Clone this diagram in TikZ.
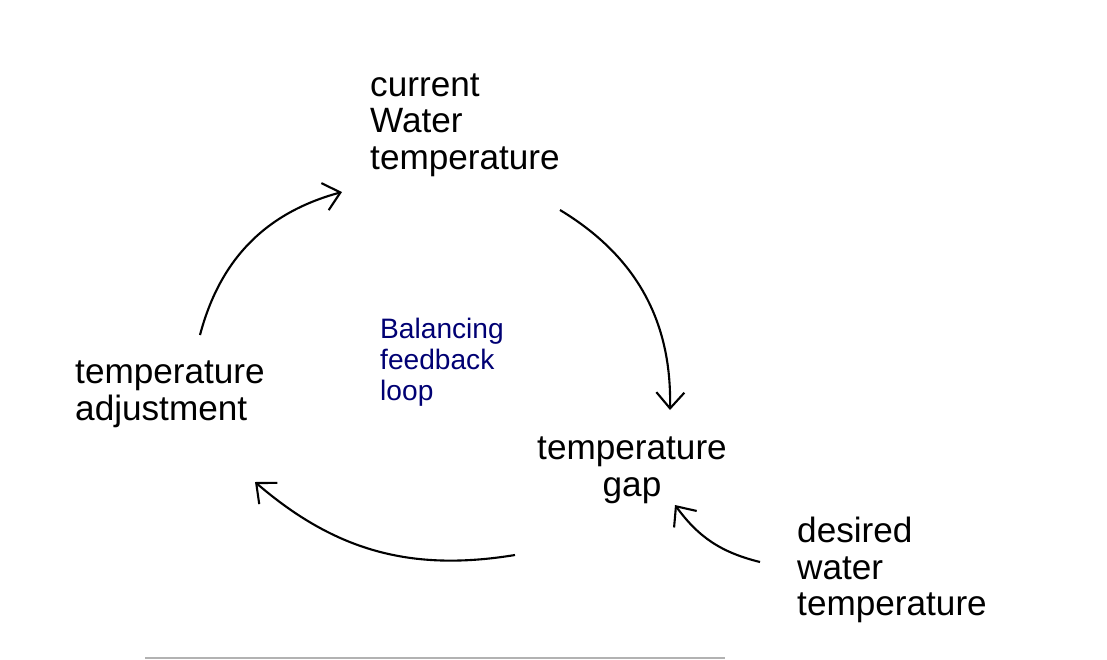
\documentclass[tikz,border=0pt]{standalone}
\usepackage{fontspec}
\setmainfont{Liberation Sans}
\usetikzlibrary{arrows.meta}
\tikzset{
  stage/.style = {align=left, font=\fontsize{25}{26}\selectfont},
  loopname/.style = {align=left, text=blue!45!black, font=\fontsize{20}{22}\selectfont},
  flow/.style = {draw, line width=1.5pt, -{Straight Barb[length=4mm,width=7mm]}}
}

\begin{document}
\begin{tikzpicture}[x=0.025cm, y=-0.025cm]
  \useasboundingbox (0,0) rectangle (1107,659);

  \node [stage] (current) at (465,125) {current\\Water\\temperature};
  \node [stage] (adjust) at (170,394) {temperature\\adjustment};
  \node [stage, align=center] (gap) at (632,470) {temperature\\gap};
  \node [stage] (desired) at (892,570) {desired\\water\\temperature};
  \node [loopname] (loop) at (442,362) {Balancing\\feedback\\loop};

  % connectors of the loop
  \coordinate (a1) at (200,335);
  \coordinate (a2) at (342,192);
  \coordinate (b1) at (560,210);
  \coordinate (b2) at (670,410);
  \coordinate (c1) at (515,555);
  \coordinate (c2) at (255,482);
  \coordinate (d1) at (760,562);
  \coordinate (d2) at (675,505);
  \draw [flow] (a1) to[bend left=30] (a2);
  \draw [flow] (b1) to[bend left=30] (b2);
  \draw [flow] (c1) to[bend left=25] (c2);
  \draw [flow] (d1) to[bend left=20] (d2);

  \draw [gray!60, line width=0.8pt] (145,658) -- (725,658);
\end{tikzpicture}
\end{document}
